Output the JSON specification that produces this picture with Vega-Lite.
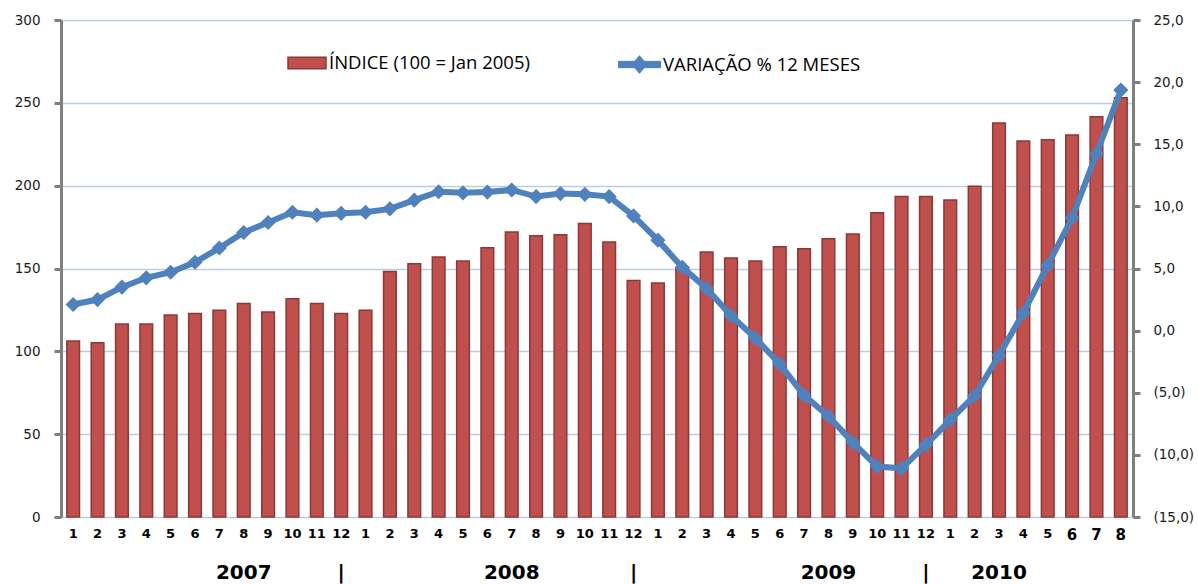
{
  "$schema": "https://vega.github.io/schema/vega-lite/v6.json",
  "width": 1072,
  "height": 497,
  "autosize": {"type": "none"},
  "padding": {"left": 61, "top": 20, "right": 65, "bottom": 67},
  "background": "white",
  "config": {
    "view": {"stroke": null},
    "axisX": {"domain": false, "ticks": false, "grid": false, "labelAngle": 0, "labelFont": "DejaVu Sans", "labelFontWeight": "bold", "labelColor": "#000000", "labelPadding": 10},
    "axisY": {"labelFont": "DejaVu Sans", "labelFontSize": 13.5, "labelColor": "#1a1a1a", "domainColor": "#7F7F7F", "domainWidth": 3, "tickColor": "#7F7F7F", "tickWidth": 3, "tickSize": 7}
  },
  "datasets": {
    "monthly": [
      {"m": "2007-01", "idx": 106.3, "var": 2.1},
      {"m": "2007-02", "idx": 105.2, "var": 2.5},
      {"m": "2007-03", "idx": 116.5, "var": 3.5},
      {"m": "2007-04", "idx": 116.5, "var": 4.25},
      {"m": "2007-05", "idx": 122, "var": 4.7},
      {"m": "2007-06", "idx": 122.8, "var": 5.5},
      {"m": "2007-07", "idx": 124.8, "var": 6.65},
      {"m": "2007-08", "idx": 128.8, "var": 7.9},
      {"m": "2007-09", "idx": 123.7, "var": 8.7},
      {"m": "2007-10", "idx": 131.7, "var": 9.53},
      {"m": "2007-11", "idx": 128.8, "var": 9.29},
      {"m": "2007-12", "idx": 122.8, "var": 9.44},
      {"m": "2008-01", "idx": 124.8, "var": 9.53},
      {"m": "2008-02", "idx": 148.2, "var": 9.8},
      {"m": "2008-03", "idx": 152.9, "var": 10.5},
      {"m": "2008-04", "idx": 156.9, "var": 11.18},
      {"m": "2008-05", "idx": 154.5, "var": 11.09},
      {"m": "2008-06", "idx": 162.5, "var": 11.15},
      {"m": "2008-07", "idx": 172, "var": 11.32},
      {"m": "2008-08", "idx": 169.7, "var": 10.79},
      {"m": "2008-09", "idx": 170.4, "var": 11.03},
      {"m": "2008-10", "idx": 177.1, "var": 10.97},
      {"m": "2008-11", "idx": 166, "var": 10.79},
      {"m": "2008-12", "idx": 142.8, "var": 9.23},
      {"m": "2009-01", "idx": 141.2, "var": 7.28},
      {"m": "2009-02", "idx": 150.5, "var": 5.1},
      {"m": "2009-03", "idx": 159.9, "var": 3.39},
      {"m": "2009-04", "idx": 156.3, "var": 1.2},
      {"m": "2009-05", "idx": 154.5, "var": -0.6},
      {"m": "2009-06", "idx": 163.2, "var": -2.69},
      {"m": "2009-07", "idx": 161.9, "var": -5.21},
      {"m": "2009-08", "idx": 168, "var": -6.89},
      {"m": "2009-09", "idx": 170.9, "var": -8.99},
      {"m": "2009-10", "idx": 183.7, "var": -10.94},
      {"m": "2009-11", "idx": 193.4, "var": -11.08},
      {"m": "2009-12", "idx": 193.4, "var": -9.19},
      {"m": "2010-01", "idx": 191.3, "var": -7.18},
      {"m": "2010-02", "idx": 199.6, "var": -5.24},
      {"m": "2010-03", "idx": 237.8, "var": -2.0},
      {"m": "2010-04", "idx": 227, "var": 1.44},
      {"m": "2010-05", "idx": 227.7, "var": 5.25},
      {"m": "2010-06", "idx": 230.6, "var": 9.08},
      {"m": "2010-07", "idx": 241.6, "var": 14.24},
      {"m": "2010-08", "idx": 253.1, "var": 19.36}
    ],
    "years": [
      {"m": "2007-08", "t": "2007"},
      {"m": "2007-12", "t": "|"},
      {"m": "2008-07", "t": "2008"},
      {"m": "2008-12", "t": "|"},
      {"m": "2009-08", "t": "2009"},
      {"m": "2009-12", "t": "|"},
      {"m": "2010-03", "t": "2010"}
    ]
  },
  "layer": [
    {
      "layer": [
        {
          "data": {"name": "monthly"},
          "mark": {"type": "bar", "stroke": "#8C3836", "strokeWidth": 1.5},
          "encoding": {
            "x": {
              "field": "m", "type": "ordinal", "title": null,
              "scale": {"paddingInner": 0.48, "paddingOuter": 0.24},
              "axis": {
                "labelExpr": "'' + toNumber(substring(datum.value, 5, 7))",
                "labelFontSize": {"condition": {"test": "datum.value >= '2010-06'", "value": 15}, "value": 13}
              }
            },
            "y": {
              "field": "idx", "type": "quantitative", "title": null,
              "scale": {"domain": [0, 300], "nice": false},
              "axis": {"orient": "left", "values": [0, 50, 100, 150, 200, 250, 300], "grid": true, "gridColor": "#B9CDE5", "gridWidth": 1.5, "labelPadding": 14}
            },
            "fill": {
              "datum": "ÍNDICE (100 = Jan 2005)",
              "scale": {"range": ["#C0504D"]},
              "legend": {
                "orient": "none", "legendX": 226, "legendY": 23, "title": null, "padding": 0,
                "symbolType": "M-1,-0.3H1V0.3H-1Z", "symbolSize": 1444,
                "symbolStrokeColor": "#8C3836", "symbolStrokeWidth": 1.5,
                "labelFont": "Open Sans", "labelFontSize": 18.5, "labelColor": "#000000", "labelOffset": 2, "labelLimit": 500
              }
            }
          }
        },
        {
          "data": {"name": "years"},
          "mark": {"type": "text", "font": "DejaVu Sans", "fontWeight": "bold", "fontSize": 20, "baseline": "middle", "dy": 56, "color": "#000000"},
          "encoding": {
            "x": {"field": "m", "type": "ordinal", "title": null},
            "y": {"datum": 0, "title": null},
            "text": {"field": "t"}
          }
        }
      ]
    },
    {
      "layer": [
        {
          "data": {"name": "monthly"},
          "mark": {"type": "line", "strokeWidth": 6},
          "encoding": {
            "x": {"field": "m", "type": "ordinal", "title": null},
            "y": {
              "field": "var", "type": "quantitative", "title": null,
              "scale": {"domain": [-15, 25], "nice": false},
              "axis": {
                "orient": "right", "values": [-15, -10, -5, 0, 5, 10, 15, 20, 25], "grid": false, "labelPadding": 13,
                "labelExpr": "datum.value < 0 ? '(' + replace(format(-datum.value, '.1f'), '.', ',') + ')' : replace(format(datum.value, '.1f'), '.', ',')"
              }
            },
            "stroke": {
              "datum": "VARIAÇÃO % 12 MESES",
              "scale": {"range": ["#4F81BD"]},
              "legend": {
                "orient": "none", "legendX": 557, "legendY": 23, "title": null, "padding": 0,
                "symbolType": "M-1,-0.15H1V0.15H-1Z M0,-0.42L0.36,0L0,0.42L-0.36,0Z", "symbolSize": 1764,
                "symbolFillColor": "#4F81BD", "symbolStrokeColor": "#4F81BD", "symbolStrokeWidth": 1,
                "labelFont": "Open Sans", "labelFontSize": 18.5, "labelColor": "#000000", "labelOffset": 2, "labelLimit": 500
              }
            }
          }
        },
        {
          "data": {"name": "monthly"},
          "mark": {"type": "point", "shape": "diamond", "filled": true, "size": 230, "color": "#4F81BD", "opacity": 1},
          "encoding": {
            "x": {"field": "m", "type": "ordinal", "title": null},
            "y": {"field": "var", "type": "quantitative", "title": null}
          }
        }
      ]
    }
  ],
  "resolve": {"scale": {"y": "independent"}}
}
